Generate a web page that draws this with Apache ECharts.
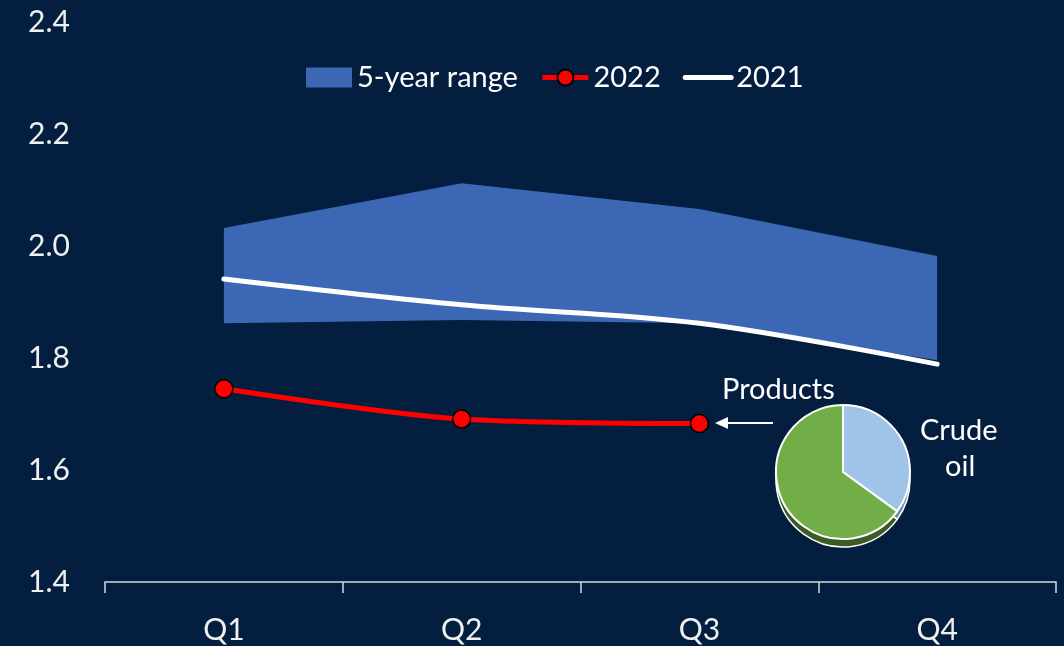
<!DOCTYPE html>
<html>
<head>
<meta charset="utf-8">
<script src="https://cdn.jsdelivr.net/npm/echarts@6/dist/echarts.min.js"></script>
<style>
html,body{margin:0;padding:0;background:#031e3e;}
#chart{width:1064px;height:646px;}
</style>
</head>
<body>
<div id="chart"></div>
<script>
var quarters = ['Q1', 'Q2', 'Q3', 'Q4'];
var rangeLow = [1.862, 1.868, 1.862, 1.796];
var rangeHigh = [2.032, 2.112, 2.066, 1.982];
var y2022 = [1.745, 1.691, 1.683];
var y2021 = [1.941, 1.895, 1.862, 1.789];
var pieNames = ['Crude oil', 'Products'];
var pieValues = [35, 65];

var rangeDiff = rangeHigh.map(function (h, i) { return +(h - rangeLow[i]).toFixed(3); });
var font = 'Lato, "Open Sans", sans-serif';
var txt = '#f0f0f0';

var chart = echarts.init(document.getElementById('chart'));
chart.setOption({
  backgroundColor: '#031e3e',
  animation: false,
  textStyle: { fontFamily: font },
  grid: { left: 105, right: 8, top: 22, bottom: 64 },
  legend: {
    left: 301, top: 58,
    itemWidth: 46, itemHeight: 20, itemGap: 22,
    textStyle: { color: '#ffffff', fontSize: 29, fontFamily: font },
    data: [
      { name: '5-year range', icon: 'rect' },
      { name: '2022', lineStyle: { width: 5 } },
      { name: '2021', lineStyle: { width: 5 }, itemStyle: { opacity: 0 } }
    ]
  },
  xAxis: {
    type: 'category',
    data: quarters,
    boundaryGap: true,
    axisLine: { lineStyle: { color: '#d9d9d9', width: 1.5 } },
    axisTick: { show: true, length: 11, lineStyle: { color: '#d9d9d9', width: 1.5 } },
    axisLabel: { color: txt, fontSize: 30, fontWeight: 'normal', margin: 33, fontFamily: font },
    splitLine: { show: false }
  },
  yAxis: {
    type: 'value',
    min: 1.4, max: 2.4, interval: 0.2,
    axisLine: { show: false },
    axisTick: { show: false },
    splitLine: { show: false },
    axisLabel: {
      color: txt, fontSize: 30, fontWeight: 'normal', margin: 35, fontFamily: font,
      formatter: function (v) { return v.toFixed(1); }
    }
  },
  series: [
    {
      name: 'low', type: 'line', stack: 'band', data: rangeLow,
      symbol: 'none', lineStyle: { width: 0, opacity: 0 }, silent: true, z: 1
    },
    {
      name: '5-year range', type: 'line', stack: 'band', data: rangeDiff,
      symbol: 'none', lineStyle: { width: 0, opacity: 0 },
      itemStyle: { color: '#3b67b4' },
      areaStyle: { color: '#3b67b4', opacity: 1 }, z: 1
    },
    {
      name: '2022', type: 'line', data: y2022, smooth: 0.3,
      symbol: 'circle', symbolSize: 18,
      lineStyle: { color: '#ff0000', width: 5 },
      itemStyle: { color: '#ff0000', borderColor: '#000000', borderWidth: 1.5 },
      z: 3
    },
    {
      name: '2021', type: 'line', data: y2021, smooth: 0.35,
      symbol: 'none',
      lineStyle: { color: '#ffffff', width: 5, cap: 'round' },
      itemStyle: { color: '#ffffff' },
      z: 2
    },
    {
      name: 'pieShadow', type: 'pie', center: [843, 480], radius: 67,
      startAngle: 90, clockwise: true, silent: true, z: 4,
      label: { show: false }, labelLine: { show: false },
      data: pieNames.map(function (n, i) {
        return { name: n, value: pieValues[i],
          itemStyle: { color: i === 0 ? '#6f8aa3' : '#3b5a24', borderColor: '#ffffff', borderWidth: 1.5 } };
      })
    },
    {
      name: 'pie', type: 'pie', center: [843, 472], radius: 67,
      startAngle: 90, clockwise: true, silent: true, z: 5,
      label: { show: false }, labelLine: { show: false },
      data: pieNames.map(function (n, i) {
        return { name: n, value: pieValues[i],
          itemStyle: { color: i === 0 ? '#9fc4e7' : '#72ae48', borderColor: '#ffffff', borderWidth: 2 } };
      })
    }
  ],
  graphic: [
    { type: 'text', left: 722, top: 375, z: 10,
      style: { text: 'Products', fill: '#ffffff', fontSize: 29, fontFamily: font } },
    { type: 'text', left: 920, top: 416, z: 10,
      style: { text: 'Crude', fill: '#ffffff', fontSize: 29, fontFamily: font } },
    { type: 'text', left: 945, top: 452, z: 10,
      style: { text: 'oil', fill: '#ffffff', fontSize: 29, fontFamily: font } },
    { type: 'line', z: 10, shape: { x1: 773, y1: 423, x2: 724, y2: 423 },
      style: { stroke: '#ffffff', lineWidth: 2 } },
    { type: 'polygon', z: 10, shape: { points: [[715, 423], [728, 417], [728, 429]] },
      style: { fill: '#ffffff' } }
  ]
});
</script>
</body>
</html>
